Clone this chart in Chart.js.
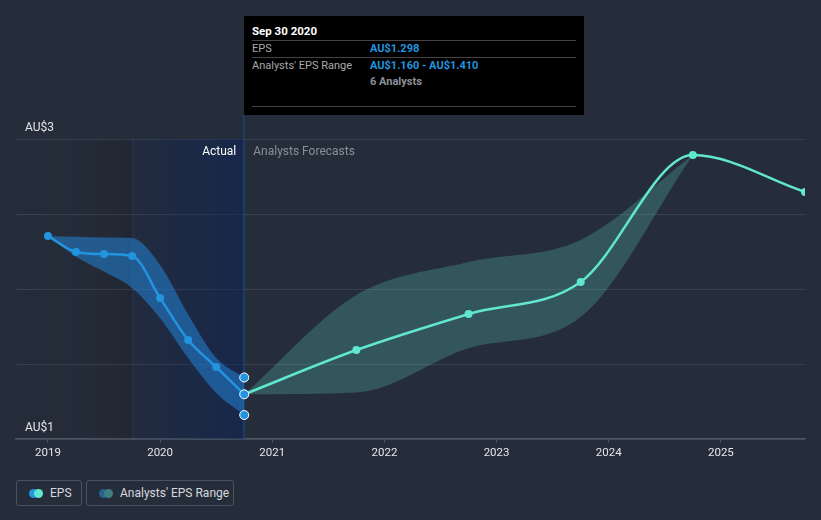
<!DOCTYPE html>
<html>
<head>
<meta charset="utf-8">
<script src="https://cdn.jsdelivr.net/npm/chart.js@4"></script>
<style>
  html, body { margin: 0; padding: 0; background: #262d3a; }
  #wrap { position: relative; width: 821px; height: 520px; font-family: Roboto, sans-serif; }
  #chart { position: absolute; left: 0; top: 0; }
  .tip { position: absolute; left: 244px; top: 16px; width: 340px; height: 99px; background: #000; color: #aaa; font-size: 11px; }
  .tip .hd { position: absolute; left: 8px; top: 8px; color: #fff; font-weight: bold; font-size: 11.5px; }
  .tip .ln { position: absolute; left: 8px; right: 8px; height: 1px; background: #444; }
  .tip .lb { position: absolute; left: 8px; }
  .tip .vl { position: absolute; left: 126px; color: #2394df; font-weight: bold; }
  .legend { position: absolute; top: 480px; height: 26px; box-sizing: border-box; border: 1px solid #4a5160; border-radius: 3px; color: #d6d9de; font-size: 12px; }
  .legend span.t { position: absolute; top: 5px; }
  .dot { position: absolute; top: 8px; width: 9px; height: 9px; border-radius: 50%; }
</style>
</head>
<body>
<div id="wrap">
  <canvas id="chart" width="821" height="470"></canvas>
  <div class="tip">
    <div class="hd">Sep 30 2020</div>
    <div class="ln" style="top:24px"></div>
    <div class="lb" style="top:26px">EPS</div><div class="vl" style="top:26px">AU$1.298</div>
    <div class="ln" style="top:41px"></div>
    <div class="lb" style="top:43px">Analysts' EPS Range</div><div class="vl" style="top:43px">AU$1.160 - AU$1.410</div>
    <div class="vl" style="top:59px;color:#8d9199">6 Analysts</div>
    <div class="ln" style="top:90px"></div>
  </div>
  <div class="legend" style="left:16px;width:66px">
    <div class="dot" style="left:12px;background:#2394df"></div>
    <div class="dot" style="left:17px;background:#61e7cf"></div>
    <span class="t" style="left:33px">EPS</span>
  </div>
  <div class="legend" style="left:86px;width:148px">
    <div class="dot" style="left:12px;background:#2a6193"></div>
    <div class="dot" style="left:17px;background:#3f7f80"></div>
    <span class="t" style="left:33px">Analysts' EPS Range</span>
  </div>
</div>
<script>
// quarter-end dates, converted to fractional years for a linear x scale
const ACTUAL_DATES = ['2018-12-31', '2019-03-31', '2019-06-30', '2019-09-30', '2019-12-31', '2020-03-31', '2020-06-30', '2020-09-30'];
const EPS_ACTUAL = [2.353, 2.247, 2.233, 2.22, 1.94, 1.66, 1.48, 1.298];
const ACTUAL_HIGH = [2.353, 2.348, 2.344, 2.34, 2.16, 1.83, 1.54, 1.41];
const ACTUAL_LOW = [2.353, 2.215, 2.116, 2.007, 1.805, 1.54, 1.307, 1.16];

const FORECAST_DATES = ['2020-09-30', '2021-09-30', '2022-09-30', '2023-09-30', '2024-09-30', '2025-09-30'];
const EPS_FORECAST = [1.298, 1.593, 1.833, 2.047, 2.893, 2.647];
const FORECAST_HIGH = [1.298, 1.96, 2.18, 2.327, 2.893];
const FORECAST_LOW = [1.298, 1.31, 1.605, 1.813, 2.893];

const HOVER_DATE = '2020-09-30';
const HOVER_VALUES = [1.41, 1.298, 1.16];

const X_TICKS = [2019, 2020, 2021, 2022, 2023, 2024, 2025];
const Y_GRID = [1, 1.5, 2, 2.5, 3];
const Y_LABELS = [{ v: 3, t: 'AU$3' }, { v: 1, t: 'AU$1' }];

const COLORS = {
  eps: '#2394df',
  epsBand: 'rgba(35,140,230,0.5)',
  fc: '#61e7cf',
  fcBand: 'rgba(88,196,186,0.27)',
  grid: '#3a4150',
  axis: '#4d5564',
  text: '#e3e5e8',
};

function toYear(d) {
  const [y, m] = d.split('-').map(Number);
  return y + m / 12;
}
const pts = (dates, vals) => vals.map((v, i) => ({ x: toYear(dates[i]), y: v }));

const lineBase = { cubicInterpolationMode: 'monotone', pointRadius: 0, borderWidth: 0 };

// shaded past region, hover line, in-plot labels
const decor = {
  id: 'decor',
  beforeDatasetsDraw(chart) {
    const { ctx, chartArea: a, scales: { x, y } } = chart;
    const x0 = a.left, x1 = x.getPixelForValue(toYear('2019-09-30')), x2 = x.getPixelForValue(toYear(HOVER_DATE));
    ctx.save();
    let g = ctx.createLinearGradient(x0, 0, x1, 0);
    g.addColorStop(0, 'rgba(0,0,0,0)');
    g.addColorStop(0.6, 'rgba(0,0,0,0.03)');
    g.addColorStop(1, 'rgba(0,0,0,0.13)');
    ctx.fillStyle = g;
    ctx.fillRect(x0, a.top, x1 - x0, a.bottom - a.top);
    g = ctx.createLinearGradient(x1, 0, x2, 0);
    g.addColorStop(0, 'rgba(10,35,90,0.12)');
    g.addColorStop(1, 'rgba(10,35,90,0.52)');
    ctx.fillStyle = g;
    ctx.fillRect(x1, a.top, x2 - x1, a.bottom - a.top);
    ctx.fillStyle = 'rgba(40,75,140,0.3)';
    ctx.fillRect(Math.round(x1), a.top, 1, a.bottom - a.top);
    ctx.fillStyle = '#1f4f8f';
    ctx.fillRect(Math.round(x2) - 0.5, 115, 1, a.bottom - 115);

    ctx.font = '12px Roboto';
    ctx.textBaseline = 'middle';
    ctx.textAlign = 'right';
    ctx.fillStyle = '#ffffff';
    ctx.fillText('Actual', x2 - 8, a.top + 13);
    ctx.textAlign = 'left';
    ctx.fillStyle = '#8a8f99';
    ctx.fillText('Analysts Forecasts', x2 + 9, a.top + 13);

    ctx.fillStyle = COLORS.text;
    Y_LABELS.forEach(l => ctx.fillText(l.t, a.left + 9, y.getPixelForValue(l.v) - 11));
    ctx.restore();
  },
};

new Chart(document.getElementById('chart'), {
  type: 'line',
  data: {
    datasets: [
      { data: pts([HOVER_DATE, HOVER_DATE, HOVER_DATE], HOVER_VALUES), type: 'scatter', pointRadius: 4.5, pointBackgroundColor: COLORS.eps, pointBorderColor: '#ffffff', pointBorderWidth: 1, order: 0 },
      { data: pts(ACTUAL_DATES, EPS_ACTUAL), borderColor: COLORS.eps, borderWidth: 2.5, pointRadius: 4, pointBackgroundColor: COLORS.eps, pointBorderWidth: 0, cubicInterpolationMode: 'monotone', order: 1 },
      { data: pts(FORECAST_DATES, EPS_FORECAST).slice(1), showLine: false, pointRadius: 4, pointBackgroundColor: COLORS.fc, pointBorderWidth: 0, order: 1 },
      { data: pts(FORECAST_DATES, EPS_FORECAST), borderColor: COLORS.fc, borderWidth: 2.5, pointRadius: 0, cubicInterpolationMode: 'monotone', order: 1 },
      { ...lineBase, data: pts(ACTUAL_DATES, ACTUAL_HIGH), order: 2 },
      { ...lineBase, data: pts(ACTUAL_DATES, ACTUAL_LOW), fill: '-1', backgroundColor: COLORS.epsBand, order: 2 },
      { ...lineBase, data: pts(FORECAST_DATES, FORECAST_HIGH), order: 2 },
      { ...lineBase, data: pts(FORECAST_DATES, FORECAST_LOW), fill: '-1', backgroundColor: COLORS.fcBand, order: 2 },
    ],
  },
  options: {
    responsive: false,
    animation: false,
    events: [],
    layout: { padding: { top: 139, left: 16, right: 16, bottom: 0 } },
    plugins: { legend: { display: false }, tooltip: { enabled: false } },
    scales: {
      x: {
        type: 'linear', min: 2018.715, max: 2025.75,
        afterBuildTicks: s => { s.ticks = X_TICKS.map(v => ({ value: v })); },
        afterFit: s => { s.height = 31; },
        ticks: { color: COLORS.text, font: { family: 'Roboto', size: 11.5 }, padding: 3, callback: v => String(v), maxRotation: 0 },
        grid: { drawOnChartArea: false, drawTicks: true, tickLength: 4, color: COLORS.axis },
        border: { color: COLORS.axis, width: 1.5 },
      },
      y: {
        type: 'linear', min: 1, max: 3,
        afterBuildTicks: s => { s.ticks = Y_GRID.map(v => ({ value: v })); },
        afterFit: s => { s.width = 0; },
        ticks: { display: false },
        grid: { color: COLORS.grid, drawTicks: false },
        border: { display: false },
      },
    },
  },
  plugins: [decor],
});
</script>
</body>
</html>
